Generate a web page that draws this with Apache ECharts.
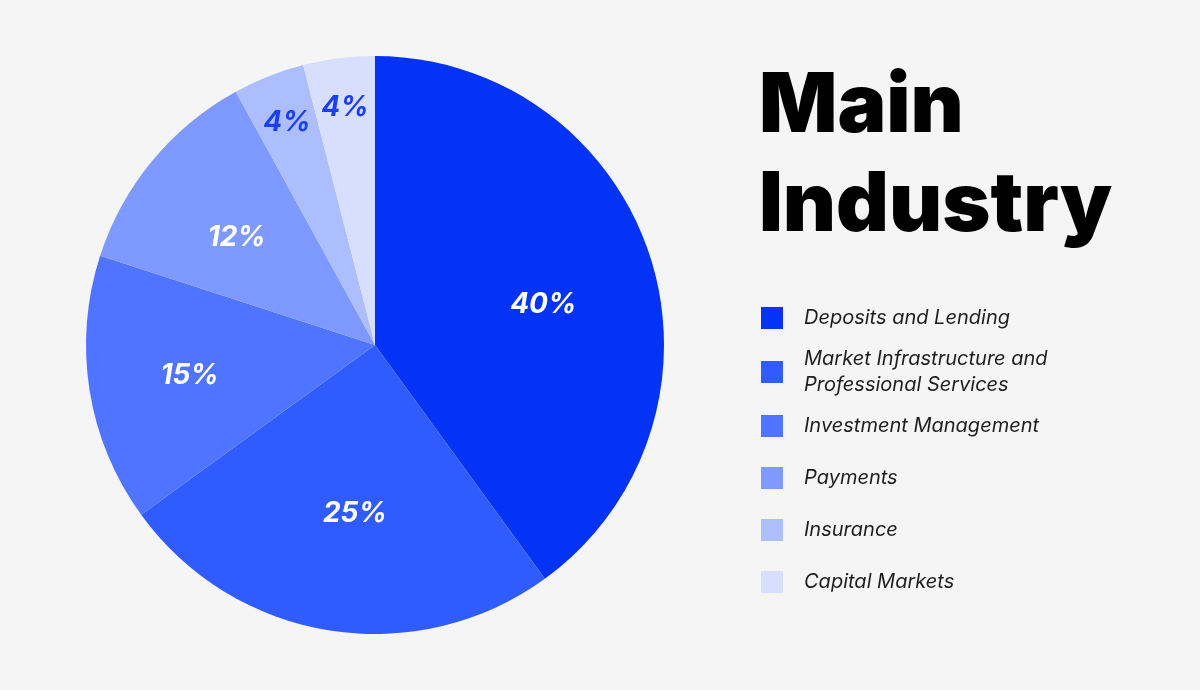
<!DOCTYPE html>
<html>
<head>
<meta charset="utf-8">
<script src="https://cdn.jsdelivr.net/npm/echarts@6/dist/echarts.min.js"></script>
<style>
html,body{margin:0;padding:0;background:#f5f5f5;}
#chart{width:1200px;height:690px;}
</style>
</head>
<body>
<div id="chart"></div>
<script>
const categories = ['Deposits and Lending', 'Market Infrastructure and\nProfessional Services', 'Investment Management', 'Payments', 'Insurance', 'Capital Markets'];
const values = [40, 25, 15, 12, 4, 4];
const colors = ['#0433f5', '#2f5bff', '#4f74ff', '#7e99ff', '#adbeff', '#d8dffe'];
const labelColors = ['#ffffff', '#ffffff', '#ffffff', '#ffffff', '#1a3ff0', '#1a3ff0'];
const labelRadius = [173, 170, 188, 175, 239, 239];
const labelAngleShift = [4.6, -2.2, -0.5, -1.8, 0, 0];

const CX = 375, CY = 345, R = 289;
const chart = echarts.init(document.getElementById('chart'));
chart.setOption({
  backgroundColor: '#f5f5f5',
  animation: false,
  title: {
    text: 'Main\nIndustry',
    left: 754,
    top: 53,
    textStyle: { fontFamily: 'Inter', fontSize: 82, fontWeight: 900, color: '#000', lineHeight: 99 }
  },
  legend: {
    orient: 'vertical',
    left: 756,
    top: 289,
    itemWidth: 22,
    itemHeight: 22,
    itemGap: 4,
    icon: 'rect',
    selectedMode: false,
    textStyle: { fontFamily: 'Inter', fontSize: 20, fontStyle: 'italic', color: '#1e1e1e', lineHeight: 48, padding: [0, 0, 0, 16] },
    data: categories.map((c, i) => i === 1 ? { name: c, textStyle: { lineHeight: 26 } } : { name: c })
  },
  series: [{
    type: 'pie',
    center: [CX, CY],
    radius: [0, R],
    startAngle: 90,
    clockwise: true,
    silent: true,
    label: {
      show: true,
      position: 'inside',
      formatter: '{c}%',
      fontFamily: 'Inter',
      fontSize: 28,
      fontWeight: 'bold',
      fontStyle: 'italic'
    },
    labelLine: { show: false },
    labelLayout: function (p) {
      const r = p.labelRect;
      const lx = r.x + r.width / 2, ly = r.y + r.height / 2;
      const ang = Math.atan2(ly - CY, lx - CX) + labelAngleShift[p.dataIndex] * Math.PI / 180;
      const rr = labelRadius[p.dataIndex];
      return { dx: CX + rr * Math.cos(ang) - lx, dy: CY + rr * Math.sin(ang) - ly };
    },
    data: categories.map((c, i) => ({
      name: c,
      value: values[i],
      itemStyle: { color: colors[i] },
      label: { color: labelColors[i] }
    }))
  }]
});
</script>
</body>
</html>
